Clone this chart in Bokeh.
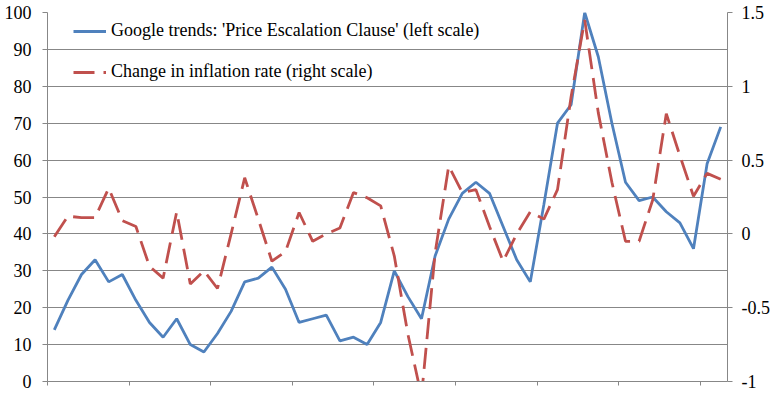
from bokeh.plotting import figure
from bokeh.models import Range1d, LinearAxis, FixedTicker, Legend, LegendItem, ColumnDataSource
from bokeh.embed import file_html
from bokeh.resources import INLINE

# Google trends: 'Price Escalation Clause' (left scale), 50 monthly points
google_trends = [14, 22, 29, 33, 27, 29, 22, 16, 12, 17,
                 10, 8, 13, 19, 27, 28, 31, 25, 16, 17,
                 18, 11, 12, 10, 16, 30, 23, 17, 34, 44,
                 51, 54, 51, 42, 33, 27, 48, 70, 75, 100,
                 88, 70, 54, 49, 50, 46, 43, 36, 59, 69]

# Change in inflation rate (right scale)
inflation_change = [-0.02, 0.12, 0.11, 0.11, 0.31, 0.09, 0.05, -0.22, -0.30, 0.15,
                    -0.34, -0.25, -0.37, 0.0, 0.38, 0.10, -0.185, -0.12, 0.145, -0.05,
                    0.0, 0.04, 0.28, 0.245, 0.19, -0.15, -0.68, -1.1, -0.13, 0.46,
                    0.28, 0.30, 0.05, -0.185, 0.0, 0.15, 0.10, 0.30, 0.93, 1.45,
                    0.82, 0.35, -0.05, -0.05, 0.23, 0.815, 0.53, 0.255, 0.41, 0.37]

left_ticks = [0, 10, 20, 30, 40, 50, 60, 70, 80, 90, 100]
right_ticks = [-1, -0.5, 0, 0.5, 1, 1.5]
right_tick_labels = ["-1", "-0.5", "0", "0.5", "1", "1.5"]
x_ticks = [0, 6, 12, 18, 24, 30, 36, 42, 48]

label_google = "Google trends: 'Price Escalation Clause' (left scale)"
label_infl = "Change in inflation rate (right scale)"

n = len(google_trends)
xs = [i + 0.5 for i in range(n)]
src = ColumnDataSource(dict(x=xs, g=google_trends, r=inflation_change))

FONT = "'Liberation Serif', 'Times New Roman', serif"
FSIZE = "18px"
GRAY = "#878787"
BLUE = "#4F81BD"
RED = "#C0504D"

p = figure(width=774, height=392, output_backend="svg", toolbar_location=None,
           x_range=Range1d(0, n), y_range=Range1d(0, 100),
           min_border_left=47, min_border_right=47, min_border_top=12, min_border_bottom=11)
p.outline_line_color = None
p.background_fill_color = "white"
p.border_fill_color = "white"
p.extra_y_ranges = {"right": Range1d(-1, 1.5)}

# left axis
yax = p.yaxis[0]
yax.ticker = FixedTicker(ticks=left_ticks)
yax.axis_line_color = GRAY
yax.major_tick_line_color = GRAY
yax.major_tick_out = 5
yax.major_tick_in = 0
yax.minor_tick_line_color = None
yax.major_label_standoff = 11
yax.major_label_text_font = FONT
yax.major_label_text_font_size = FSIZE
yax.major_label_text_color = "black"

# bottom axis (category boundaries, no labels)
xax = p.xaxis[0]
xax.ticker = FixedTicker(ticks=x_ticks)
xax.axis_line_color = GRAY
xax.major_tick_line_color = GRAY
xax.major_tick_out = 4
xax.major_tick_in = 0
xax.minor_tick_line_color = None
xax.major_label_overrides = {t: "" for t in x_ticks}
xax.major_label_standoff = 0
xax.major_label_text_font_size = "1px"

# right axis
rax = LinearAxis(y_range_name="right", ticker=FixedTicker(ticks=right_ticks))
rax.major_label_overrides = {t: lab for t, lab in zip(right_ticks, right_tick_labels)}
rax.axis_line_color = GRAY
rax.major_tick_line_color = GRAY
rax.major_tick_out = 5
rax.major_tick_in = 0
rax.minor_tick_line_color = None
rax.major_label_standoff = 9
rax.major_label_text_font = FONT
rax.major_label_text_font_size = FSIZE
rax.major_label_text_color = "black"
p.add_layout(rax, "right")

p.xgrid.grid_line_color = None
p.ygrid.grid_line_color = GRAY
p.ygrid.grid_line_width = 1
p.ygrid.ticker = FixedTicker(ticks=left_ticks)

rb = p.line("x", "g", source=src, line_color=BLUE, line_width=2.8)
rr = p.line("x", "r", source=src, line_color=RED, line_width=2.8,
            line_dash="21 9", y_range_name="right")

legend = Legend(items=[LegendItem(label=label_google, renderers=[rb]),
                       LegendItem(label=label_infl, renderers=[rr])],
                location=(26, 299))
legend.background_fill_alpha = 0
legend.border_line_color = None
legend.label_text_font = FONT
legend.label_text_font_size = FSIZE
legend.label_text_color = "black"
legend.glyph_width = 33
legend.glyph_height = 20
legend.label_height = 20
legend.label_standoff = 5
legend.spacing = 20
legend.padding = 0
legend.margin = 0
p.add_layout(legend, "center")

open("out.html", "w").write(file_html(p, INLINE))
